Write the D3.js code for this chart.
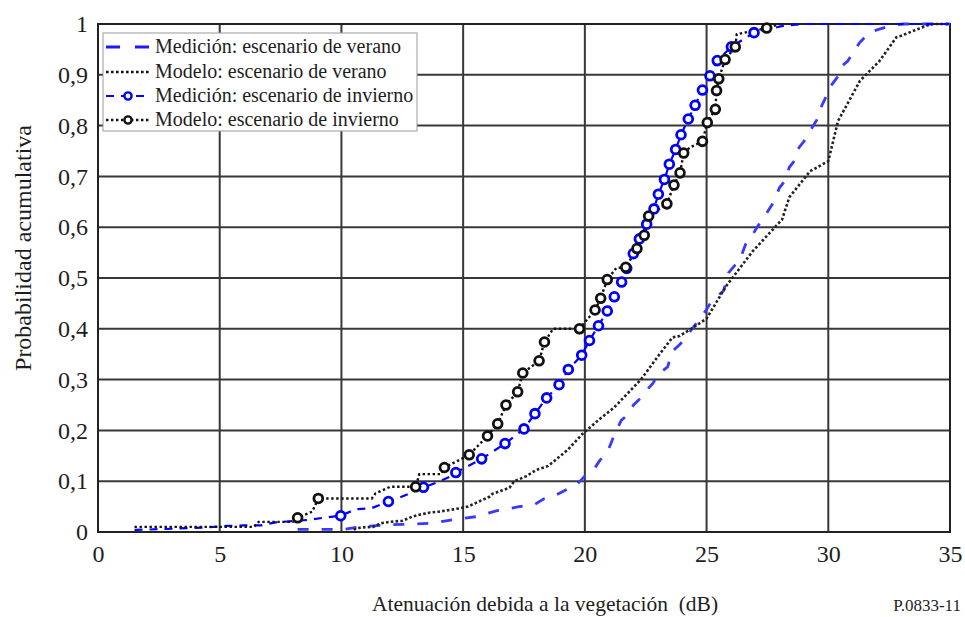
<!DOCTYPE html>
<html><head><meta charset="utf-8">
<script src="https://cdn.jsdelivr.net/npm/d3@7"></script>
<style>body{margin:0;background:#fff;} svg{display:block;}</style>
</head><body>
<svg id="chart" width="965" height="617"></svg>
<script>
const xTicks = [0,5,10,15,20,25,30,35];
const yTicks = [0,0.1,0.2,0.3,0.4,0.5,0.6,0.7,0.8,0.9,1];
const xTitle = "Atenuación debida a la vegetación  (dB)";
const yTitle = "Probabilidad acumulativa";
const figId = "P.0833-11";
const legendLabels = ["Medición: escenario de verano","Modelo: escenario de verano","Medición: escenario de invierno","Modelo: escenario de invierno"];

const summerMeas = [[8.2,0.005],[10.1,0.005],[10.7,0.01],[11.3,0.012],[11.9,0.014],[12.5,0.015],[13.1,0.016],[13.6,0.017],[14.3,0.022],[14.7,0.025],[15.5,0.03],[16.4,0.042],[16.8,0.045],[17.3,0.05],[17.9,0.053],[18.3,0.065],[18.7,0.07],[19.3,0.085],[19.6,0.09],[20.0,0.11],[20.3,0.118],[20.6,0.14],[20.95,0.16],[21.2,0.19],[21.5,0.22],[21.7,0.228],[22.0,0.25],[22.3,0.264],[22.5,0.277],[22.8,0.293],[23.0,0.31],[23.4,0.325],[23.6,0.356],[23.9,0.369],[24.2,0.385],[24.4,0.4],[24.7,0.418],[25.0,0.438],[25.2,0.454],[25.7,0.475],[25.9,0.51],[26.2,0.527],[26.4,0.54],[26.6,0.566],[26.9,0.586],[27.1,0.602],[27.3,0.615],[27.7,0.645],[28.0,0.678],[28.2,0.69],[28.4,0.718],[28.6,0.73],[28.8,0.757],[29.0,0.769],[29.3,0.793],[29.6,0.817],[29.7,0.836],[29.9,0.856],[30.1,0.878],[30.4,0.897],[30.5,0.915],[30.8,0.927],[31.1,0.95],[31.3,0.964],[31.7,0.984],[32.1,0.99],[32.6,0.997],[33.1,1.0],[35,1.0]];

const summerModel = [[10.5,0.005],[10.8,0.009],[11.3,0.01],[11.6,0.017],[12.0,0.02],[12.5,0.022],[12.9,0.03],[13.2,0.034],[13.6,0.038],[14.0,0.04],[14.9,0.047],[15.2,0.05],[16.1,0.07],[16.2,0.075],[16.9,0.087],[17.1,0.1],[17.6,0.11],[18.0,0.122],[18.5,0.13],[19.3,0.162],[19.9,0.193],[20.6,0.222],[21.2,0.245],[21.5,0.26],[22.3,0.3],[23.1,0.352],[23.6,0.383],[23.9,0.386],[24.3,0.398],[25.0,0.42],[25.8,0.484],[26.9,0.553],[28.1,0.615],[28.4,0.659],[29.25,0.71],[30.0,0.73],[30.4,0.809],[31.3,0.888],[32.1,0.927],[32.8,0.974],[33.0,0.977],[34.05,0.997],[34.3,1.0],[35,1.0]];

const winterMeas = [[1.5,0.004],[3.1,0.0065],[4.5,0.009],[5.3,0.012],[6.0,0.013],[6.7,0.013],[7.3,0.019],[8.7,0.024],[9.4,0.029],[9.97,0.032],[10.6,0.045],[11.24,0.047],[11.93,0.06],[12.3,0.066],[12.8,0.076],[13.37,0.088],[13.9,0.097],[14.46,0.109],[14.7,0.117],[15.76,0.144],[16.72,0.174],[17.5,0.203],[17.95,0.233],[18.43,0.264],[18.94,0.29],[19.32,0.32],[19.87,0.348],[20.19,0.377],[20.56,0.406],[20.92,0.435],[21.21,0.463],[21.51,0.492],[21.72,0.519],[21.99,0.548],[22.24,0.577],[22.54,0.606],[22.84,0.636],[23.02,0.665],[23.27,0.694],[23.47,0.724],[23.73,0.753],[23.95,0.782],[24.25,0.813],[24.53,0.84],[24.83,0.87],[25.14,0.898],[25.44,0.928],[26.02,0.955],[26.95,0.983],[28.2,0.997],[29.0,1.0],[35,1.0]];
const winterMeasMarks = [[9.97,0.032],[11.93,0.06],[13.37,0.088],[14.7,0.117],[15.76,0.144],[16.72,0.174],[17.5,0.203],[17.95,0.233],[18.43,0.264],[18.94,0.29],[19.32,0.32],[19.87,0.348],[20.19,0.377],[20.56,0.406],[20.92,0.435],[21.21,0.463],[21.51,0.492],[21.72,0.519],[21.99,0.548],[22.24,0.577],[22.54,0.606],[22.84,0.636],[23.02,0.665],[23.27,0.694],[23.47,0.724],[23.73,0.753],[23.95,0.782],[24.25,0.813],[24.53,0.84],[24.83,0.87],[25.14,0.898],[25.44,0.928],[26.02,0.955],[26.95,0.983]];

const winterModel = [[1.5,0.01],[6.4,0.01],[6.6,0.02],[8.0,0.02],[8.2,0.028],[8.8,0.04],[9.05,0.066],[11.25,0.066],[11.4,0.076],[12.0,0.089],[13.05,0.089],[13.2,0.114],[14.1,0.114],[14.23,0.127],[14.73,0.139],[15.25,0.152],[16.0,0.189],[16.42,0.213],[16.76,0.25],[17.24,0.276],[17.45,0.313],[18.12,0.337],[18.34,0.374],[18.7,0.4],[19.78,0.4],[20.42,0.437],[20.65,0.46],[20.92,0.497],[21.3,0.52],[21.68,0.521],[22.14,0.558],[22.44,0.584],[22.62,0.622],[23.37,0.646],[23.66,0.683],[23.91,0.707],[24.06,0.746],[24.32,0.757],[24.83,0.769],[25.03,0.806],[25.36,0.832],[25.41,0.869],[25.5,0.892],[25.76,0.93],[26.18,0.955],[26.24,0.98],[27.47,0.992],[28.0,1.0]];
const winterModelMarks = [[8.2,0.028],[9.05,0.066],[13.05,0.089],[14.23,0.127],[15.25,0.152],[16.0,0.189],[16.42,0.213],[16.76,0.25],[17.24,0.276],[17.45,0.313],[18.12,0.337],[18.34,0.374],[19.78,0.4],[20.42,0.437],[20.65,0.46],[20.92,0.497],[21.68,0.521],[22.14,0.558],[22.44,0.584],[22.62,0.622],[23.37,0.646],[23.66,0.683],[23.91,0.707],[24.06,0.746],[24.83,0.769],[25.03,0.806],[25.36,0.832],[25.41,0.869],[25.5,0.892],[25.76,0.93],[26.18,0.955],[27.47,0.992]];

const svg = d3.select("#chart");
const L = 98, R = 950, T = 24, B = 532;
const x = d3.scaleLinear().domain([0,35]).range([L,R]);
const y = d3.scaleLinear().domain([0,1]).range([B,T]);
const font = "Liberation Serif, Times New Roman, serif";
const gridCol = "#383838";
const txtCol = "#1e1e1e";

// grid
const g = svg.append("g");
g.selectAll(".vg").data(xTicks).join("line")
  .attr("x1",d=>x(d)).attr("x2",d=>x(d)).attr("y1",T).attr("y2",B)
  .attr("stroke",gridCol).attr("stroke-width",2);
g.selectAll(".hg").data(yTicks).join("line")
  .attr("x1",L).attr("x2",R).attr("y1",d=>y(d)).attr("y2",d=>y(d))
  .attr("stroke",gridCol).attr("stroke-width",2);
g.append("rect").attr("x",L).attr("y",T).attr("width",R-L).attr("height",B-T)
  .attr("fill","none").attr("stroke","#222").attr("stroke-width",2);

// axes
const fmt = d => d===0||d===1 ? String(d) : d3.format(".1f")(d).replace(".",",");
const xAxis = svg.append("g").attr("transform",`translate(0,${B})`)
  .call(d3.axisBottom(x).tickValues(xTicks).tickSize(0).tickPadding(13).tickFormat(d=>d));
const yAxis = svg.append("g").attr("transform",`translate(${L},0)`)
  .call(d3.axisLeft(y).tickValues(yTicks).tickSize(0).tickPadding(10).tickFormat(fmt));
[xAxis,yAxis].forEach(a=>{
  a.attr("font-family",null).attr("font-size",null);
  a.select(".domain").remove();
  a.selectAll("text").style("font-family",font).style("font-size","24px").attr("fill",txtCol);
});

// lines
const line = d3.line().x(d=>x(d[0])).y(d=>y(d[1]));
const plot = svg.append("g");
plot.append("path").datum(summerMeas).attr("d",line).attr("fill","none")
  .attr("stroke","#3a3aff").attr("stroke-width",2.8).attr("stroke-dasharray","11,13");
plot.append("path").datum(summerModel).attr("d",line).attr("fill","none")
  .attr("stroke","#222").attr("stroke-width",2.6).attr("stroke-dasharray","2.6,2.2");
plot.append("path").datum(winterMeas).attr("d",line).attr("fill","none")
  .attr("stroke","#0000ff").attr("stroke-width",2.2).attr("stroke-dasharray","8,7");
plot.append("path").datum(winterModel).attr("d",line).attr("fill","none")
  .attr("stroke","#111").attr("stroke-width",2.4).attr("stroke-dasharray","2.4,2.6");
plot.selectAll(".wm").data(winterMeasMarks).join("circle")
  .attr("cx",d=>x(d[0])).attr("cy",d=>y(d[1])).attr("r",4.4)
  .attr("fill","white").attr("stroke","#0000ff").attr("stroke-width",2.8);
plot.selectAll(".wk").data(winterModelMarks).join("circle")
  .attr("cx",d=>x(d[0])).attr("cy",d=>y(d[1])).attr("r",4.4)
  .attr("fill","white").attr("stroke","#111").attr("stroke-width",2.8);

// legend
const lg = svg.append("g");
lg.append("rect").attr("x",103).attr("y",33).attr("width",314).attr("height",98)
  .attr("fill","white").attr("stroke","#9a9a9a").attr("stroke-width",1);
const ly = [47,72,96,120];
const styles = [
  {stroke:"#1a1aff", w:3, dash:"14,15", mark:null},
  {stroke:"#111", w:2.6, dash:"2.6,2.4", mark:null},
  {stroke:"#0000ff", w:2.2, dash:"8,7", mark:"#0000ff"},
  {stroke:"#111", w:2.4, dash:"2.4,2.6", mark:"#111"}
];
legendLabels.forEach((lab,i)=>{
  const s = styles[i];
  lg.append("line").attr("x1",106).attr("x2",151).attr("y1",ly[i]).attr("y2",ly[i])
    .attr("stroke",s.stroke).attr("stroke-width",s.w).attr("stroke-dasharray",s.dash);
  if (s.mark) lg.append("circle").attr("cx",128).attr("cy",ly[i]).attr("r",3.6)
    .attr("fill","white").attr("stroke",s.mark).attr("stroke-width",2.4);
  lg.append("text").attr("x",155).attr("y",ly[i]+6).text(lab)
    .style("font-family",font).style("font-size","20px").attr("fill",txtCol);
});

// titles
svg.append("text").attr("x",545).attr("y",611).attr("text-anchor","middle")
  .style("font-family",font).style("font-size","21.5px").style("white-space","pre")
  .attr("fill",txtCol).text(xTitle);
svg.append("text").attr("transform","translate(31,248) rotate(-90)").attr("text-anchor","middle")
  .style("font-family",font).style("font-size","24px").attr("fill",txtCol).text(yTitle);
svg.append("text").attr("x",961).attr("y",611).attr("text-anchor","end")
  .style("font-family",font).style("font-size","17px").attr("fill",txtCol).text(figId);
</script>
</body></html>
